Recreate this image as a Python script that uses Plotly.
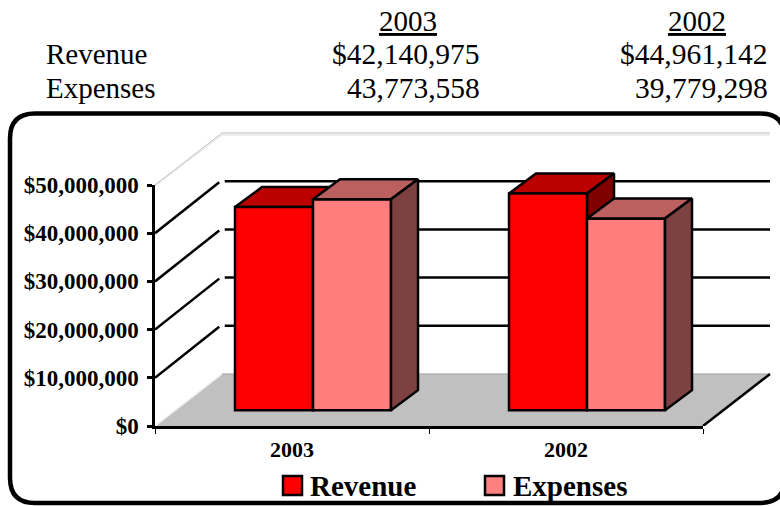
import plotly.graph_objects as go

# ---- data ----
years = ["2003", "2002"]
revenue = [42140975, 44961142]
expenses = [43773558, 39779298]
revenue_text = ["$42,140,975", "$44,961,142"]
expenses_text = ["43,773,558", "39,779,298"]
y_ticks = [0, 10000000, 20000000, 30000000, 40000000, 50000000]
y_tick_labels = ["$0", "$10,000,000", "$20,000,000", "$30,000,000", "$40,000,000", "$50,000,000"]

# ---- layout constants ----
W, H = 780, 506
L, R, T, B = 155, 703, 185, 426      # front face of the chart box
PR, PT = 773, 130                    # drawing area that also holds the depth
YMAX = 50000000
UX = (R - L) / 2.0                   # px per category
UY = (B - T) / YMAX                  # px per dollar
WALL_X = 67 / UX                     # depth of the chart box, in axis units
WALL_Y = 52 / UY
BAR_W = 78 / UX
BAR_X = 21 / UX                      # shift of the bars into the box
BAR_BASE = 15.8 / UY                 # bars stand this far up the floor
DEPTH_X = 27 / UX                    # bar depth
DEPTH_Y = 20 / UY
LW = 2.5

BLACK = "#000000"
SERIF = "Liberation Serif, Times New Roman, serif"


def px(x):
    return (x - L) / (PR - L)


def py(y):
    return (B - y) / (B - PT)


def dots(fg, bg):
    return dict(shape=".", size=2, solidity=0.5, fgcolor=fg, bgcolor=bg, fillmode="replace")


fig = go.Figure()


def poly(xs, ys, fill, line=BLACK, lw=LW, axes=("x", "y"), pattern=None):
    kw = {}
    if pattern:
        kw["fillpattern"] = pattern
    fig.add_trace(go.Scatter(
        x=xs, y=ys, mode="lines", fill="toself", fillcolor=fill,
        line=dict(color=line, width=lw), xaxis=axes[0], yaxis=axes[1],
        hoverinfo="skip", showlegend=False, **kw))


def seg(xs, ys, color=BLACK, lw=LW):
    fig.add_trace(go.Scatter(
        x=xs, y=ys, mode="lines", line=dict(color=color, width=lw),
        hoverinfo="skip", showlegend=False))


# floor
poly([0, 2, 2 + WALL_X, WALL_X, 0], [0, 0, WALL_Y, WALL_Y, 0], "#C0C0C0", line="#C0C0C0", lw=0.5)
seg([WALL_X, 2 + WALL_X], [WALL_Y, WALL_Y], "#A8A8A8", 1)
seg([0, WALL_X], [0, WALL_Y], "#F0F0F0", 1.5)
seg([2, 2 + WALL_X], [0, WALL_Y], BLACK, LW)
# top of the box: a grey double line
top = y_ticks[-1]
GAP_Y = 2 / UY
for shift, col in ((0, "#BDBDBD"), (GAP_Y, "#DDDDDD")):
    seg([WALL_X, 2 + WALL_X], [top + WALL_Y - shift, top + WALL_Y - shift], col, 1)
    seg([0, WALL_X], [top - shift * 0.5, top + WALL_Y - shift], col, 1)
# gridlines: diagonal on the side wall, horizontal on the back wall
for v in y_ticks[1:-1]:
    seg([0, WALL_X - 0.01], [v, v + WALL_Y * 0.98], BLACK, LW)
    seg([WALL_X + 0.01, 2 + WALL_X], [v + WALL_Y, v + WALL_Y], BLACK, LW)


def box_faces(series, offset, top_col, side_col, axes, top_pat=None, side_pat=None):
    for i, v in enumerate(series):
        x0 = i + 0.5 + offset
        x1 = x0 + BAR_W
        yt = BAR_BASE + v
        poly([x0, x1, x1 + DEPTH_X, x0 + DEPTH_X, x0],
             [yt, yt, yt + DEPTH_Y, yt + DEPTH_Y, yt], top_col, axes=axes, pattern=top_pat)
        poly([x1, x1 + DEPTH_X, x1 + DEPTH_X, x1, x1],
             [BAR_BASE, BAR_BASE + DEPTH_Y, yt + DEPTH_Y, yt, BAR_BASE], side_col, axes=axes, pattern=side_pat)


OFF_REV = BAR_X - BAR_W
OFF_EXP = BAR_X

# revenue top/side sit below the bars, on the main subplot
box_faces(revenue, OFF_REV, "#BB0000", "#800000", ("x", "y"))

# bars on an overlaid subplot so that they cover the scatter layers
centres = [0.5, 1.5]
fig.add_trace(go.Bar(
    x=centres, y=revenue, base=BAR_BASE, width=BAR_W, offset=OFF_REV, name="Revenue",
    marker=dict(color="#FF0000", line=dict(color=BLACK, width=LW)),
    xaxis="x2", yaxis="y2", showlegend=False))
fig.add_trace(go.Bar(
    x=centres, y=expenses, base=BAR_BASE, width=BAR_W, offset=OFF_EXP, name="Expenses",
    marker=dict(color="#FF8080", line=dict(color=BLACK, width=LW),
                pattern=dots("#FF6060", "#FF9494")),
    xaxis="x2", yaxis="y2", showlegend=False))
box_faces(expenses, OFF_EXP, "#C06060", "#804040", ("x2", "y2"),
          dots("#A84C4C", "#CA6E6E"), dots("#6C3232", "#8C4C4C"))

# trace that brings the visible front-face axes to life
fig.add_trace(go.Scatter(x=centres, y=revenue, mode="none", xaxis="x3", yaxis="y3",
                         hoverinfo="skip", showlegend=False))

x_full = [0, (PR - L) / UX]
y_full = [0, (B - PT) / UY]
fig.update_layout(
    width=W, height=H, margin=dict(l=L, r=W - PR, t=PT, b=H - B, autoexpand=False),
    paper_bgcolor="#FFFFFF", plot_bgcolor="rgba(0,0,0,0)", barmode="overlay", showlegend=False,
    font=dict(family=SERIF, color=BLACK),
    # scales that carry the marks, including the depth that runs past the front face
    xaxis=dict(range=x_full, visible=False, fixedrange=True),
    yaxis=dict(range=y_full, visible=False, fixedrange=True),
    xaxis2=dict(range=x_full, overlaying="x", visible=False, fixedrange=True),
    yaxis2=dict(range=y_full, overlaying="y", visible=False, fixedrange=True),
    # visible axes along the front face of the box, on the same scale
    xaxis3=dict(domain=[0, px(R)], anchor="y3", range=[0, 2], tickmode="array", tickvals=centres,
                ticktext=["<b>%s</b>" % y for y in years], ticks="",
                tickfont=dict(family=SERIF, size=22, color=BLACK),
                showgrid=False, zeroline=False, showline=True, linecolor=BLACK, linewidth=LW,
                minor=dict(tickmode="array", tickvals=[0, 1, 2], ticks="outside", ticklen=5,
                           tickwidth=1, tickcolor=BLACK),
                ticklabelstandoff=2, fixedrange=True),
    yaxis3=dict(domain=[0, py(T)], anchor="x3", range=[0, YMAX], tickmode="array", tickvals=y_ticks,
                ticktext=["<b>%s</b>" % t for t in y_tick_labels],
                tickfont=dict(family=SERIF, size=23, color=BLACK),
                ticks="outside", ticklen=5, tickwidth=LW, tickcolor=BLACK,
                showgrid=False, zeroline=False, showline=True, linecolor=BLACK, linewidth=LW,
                ticklabelstandoff=4, fixedrange=True),
)

# frame
x0, y0, x1, y1, r = 10, 113.5, 785, 503, 25
path = ("M {a} {t} L {b} {t} Q {rr} {t} {rr} {c} L {rr} {d} Q {rr} {bb} {b} {bb} "
        "L {a} {bb} Q {ll} {bb} {ll} {d} L {ll} {c} Q {ll} {t} {a} {t} Z").format(
    a=px(x0 + r), b=px(x1 - r), t=py(y0), c=py(y0 + r), d=py(y1 - r), bb=py(y1), rr=px(x1), ll=px(x0))
fig.add_shape(type="path", xref="paper", yref="paper", path=path,
              line=dict(color=BLACK, width=4.5), fillcolor="rgba(0,0,0,0)", layer="above")

# legend swatches
for sx, col in ((283, "#FF0000"), (485, "#FF8080")):
    fig.add_shape(type="rect", xref="paper", yref="paper", x0=px(sx), x1=px(sx + 19), y0=py(495), y1=py(476),
                  fillcolor=col, line=dict(color=BLACK, width=LW), layer="above")


def text(s, x, y, anchor, size, bold=False):
    fig.add_annotation(xref="paper", yref="paper", x=px(x), y=py(y), text="<b>%s</b>" % s if bold else s,
                       showarrow=False, xanchor=anchor, yanchor="middle",
                       font=dict(family=SERIF, size=size, color=BLACK), borderpad=0, borderwidth=0)


text("Revenue", 310, 486, "left", 29, True)
text("Expenses", 513, 486, "left", 29, True)
text("<u>%s</u>" % years[0], 437, 21, "right", 29)
text("<u>%s</u>" % years[1], 726, 21, "right", 29)
text("Revenue", 46, 54, "left", 29)
text("Expenses", 46, 88, "left", 29)
text(revenue_text[0], 480, 54, "right", 29.5)
text(revenue_text[1], 768, 54, "right", 29.5)
text(expenses_text[0], 480, 88, "right", 29.5)
text(expenses_text[1], 768, 88, "right", 29.5)

fig.write_html("out.html", config=dict(displayModeBar=False),
               post_script="document.body.style.margin='0';")
